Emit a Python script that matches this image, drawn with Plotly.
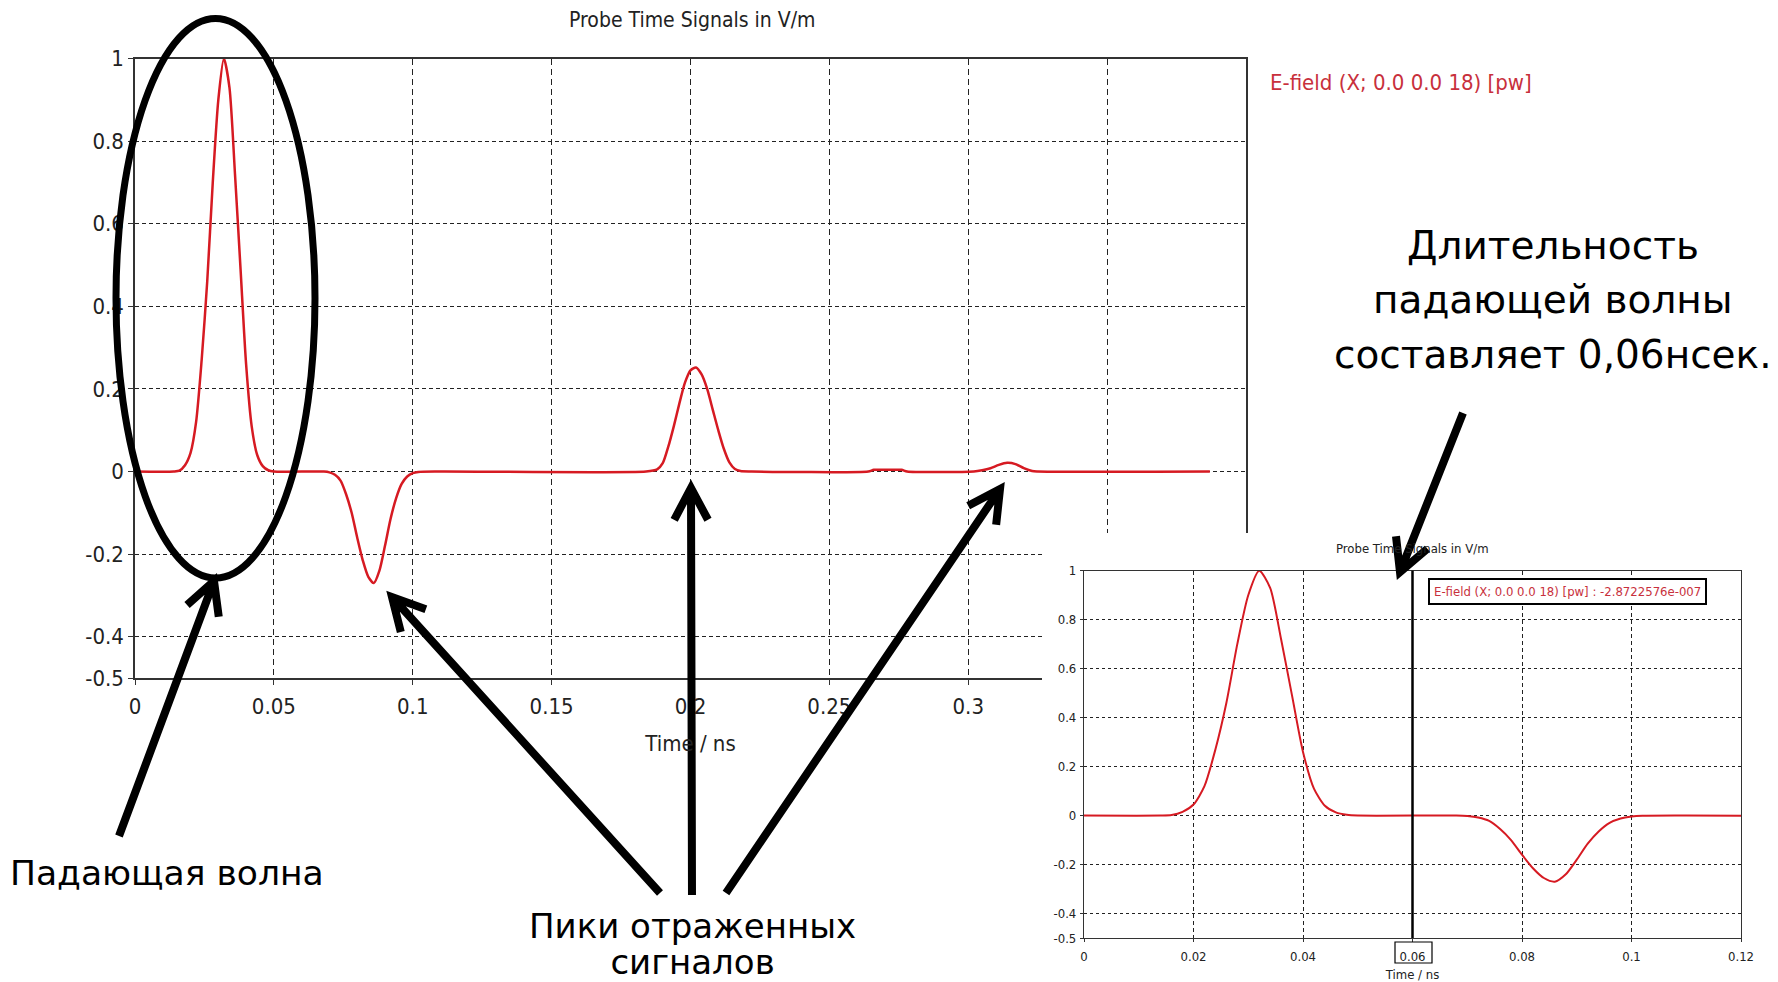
import math
import plotly.graph_objects as go

W, H = 1778, 982

# ---------------- data ----------------
time_ns = [0.000, 0.014, 0.016, 0.018, 0.020, 0.022, 0.024, 0.026, 0.028, 0.030,
           0.032, 0.034, 0.036, 0.038, 0.040, 0.042, 0.044, 0.046, 0.048, 0.050,
           0.068, 0.070, 0.072, 0.074, 0.076, 0.078, 0.080, 0.082, 0.084, 0.086,
           0.088, 0.090, 0.092, 0.094, 0.096, 0.098, 0.100, 0.102, 0.110,
           0.184, 0.188, 0.190, 0.192, 0.194, 0.196, 0.198, 0.200, 0.202, 0.204,
           0.206, 0.208, 0.210, 0.212, 0.214, 0.216, 0.218, 0.222,
           0.264, 0.266, 0.271, 0.276, 0.278,
           0.302, 0.305, 0.308, 0.311, 0.314, 0.317, 0.320, 0.323, 0.325, 0.387]
e_field = [0.0, 0.0, 0.002, 0.015, 0.045, 0.12, 0.27, 0.46, 0.70, 0.90,
           1.0, 0.93, 0.72, 0.49, 0.26, 0.11, 0.04, 0.013, 0.003, 0.0,
           0.0, -0.002, -0.008, -0.022, -0.055, -0.10, -0.16, -0.215, -0.255, -0.27,
           -0.24, -0.18, -0.115, -0.065, -0.03, -0.012, -0.004, -0.001, 0.0,
           0.0, 0.005, 0.02, 0.06, 0.11, 0.165, 0.215, 0.245, 0.252, 0.235,
           0.2, 0.15, 0.1, 0.055, 0.022, 0.006, 0.001, 0.0,
           0.0, 0.004, 0.004, 0.004, 0.0,
           0.0, 0.003, 0.008, 0.016, 0.021, 0.018, 0.008, 0.001, 0.0, 0.0]

series_name = "E-field (X; 0.0 0.0 18) [pw]"
chart_title = "Probe Time Signals in V/m"
x_title = "Time / ns"
cursor_time = 0.06
cursor_value = "-2.8722576e-007"

main_xticks = [0, 0.05, 0.1, 0.15, 0.2, 0.25, 0.3, 0.35, 0.4]
main_xlabels = ["0", "0.05", "0.1", "0.15", "0.2", "0.25", "0.3", "0.35", "0.4"]
main_yticks = [-0.5, -0.4, -0.2, 0, 0.2, 0.4, 0.6, 0.8, 1]
main_ylabels = ["-0.5", "-0.4", "-0.2", "0", "0.2", "0.4", "0.6", "0.8", "1"]
inset_xticks = [0, 0.02, 0.04, 0.06, 0.08, 0.1, 0.12]
inset_xlabels = ["0", "0.02", "0.04", "0.06", "0.08", "0.1", "0.12"]

label_incident = "Падающая волна"
label_peaks = ["Пики отраженных", "сигналов"]
label_duration = ["Длительность", "падающей волны", "составляет 0,06нсек."]

# ---------------- styling ----------------
RED = "#d61a22"
LEG_RED = "#c8303c"
GRID = "#222222"
AX = "#333333"
CF = "DejaVu Sans Condensed, DejaVu Sans, sans-serif"
TF = "DejaVu Sans, sans-serif"


def px(x):
    return x / W


def py(y):
    return 1 - y / H


fig = go.Figure()
fig.add_trace(go.Scatter(x=time_ns, y=e_field, mode="lines", name=series_name,
                         line=dict(color=RED, width=2.5, shape="spline", smoothing=0.7),
                         xaxis="x", yaxis="y", showlegend=False))
# cover subplot (white panel behind the inset)
fig.add_trace(go.Scatter(x=[None], y=[None], xaxis="x2", yaxis="y2", showlegend=False,
                         hoverinfo="skip"))
fig.add_trace(go.Scatter(x=time_ns, y=e_field, mode="lines", name=series_name,
                         line=dict(color=RED, width=2, shape="spline", smoothing=0.7),
                         xaxis="x3", yaxis="y3", showlegend=False))

main_common = dict(showgrid=True, gridcolor=GRID, gridwidth=1, showline=True, linecolor=AX,
                   linewidth=1.5, mirror=True, ticks="outside", ticklen=5, tickcolor=AX,
                   zeroline=False, automargin=False,
                   tickfont=dict(family=CF, size=22, color="#222"))
inset_common = dict(showgrid=True, gridcolor=GRID, gridwidth=1, showline=True, linecolor=AX,
                    linewidth=1.2, mirror=True, ticks="outside", ticklen=3, tickcolor=AX,
                    zeroline=False, automargin=False,
                    tickfont=dict(family=CF, size=13, color="#222"))

fig.update_layout(
    width=W, height=H, margin=dict(l=0, r=0, t=0, b=0, autoexpand=False),
    paper_bgcolor="white", plot_bgcolor="white",
    xaxis=dict(domain=[px(135), px(1246)], range=[0, 0.4], autorange=False, anchor="y",
               tickvals=main_xticks, ticktext=main_xlabels, griddash="6px,4px",
               ticklabelstandoff=3,
               title=dict(text=x_title, font=dict(family=CF, size=22, color="#222"), standoff=17),
               **main_common),
    yaxis=dict(domain=[py(678), py(58.5)], range=[-0.5, 1], autorange=False, anchor="x",
               tickvals=main_yticks, ticktext=main_ylabels, griddash="4px,3px",
               ticklabelstandoff=0, **main_common),
    xaxis2=dict(domain=[px(1042), 1], anchor="y2", visible=False, range=[0, 1],
                automargin=False),
    yaxis2=dict(domain=[0, py(533)], anchor="x2", visible=False, range=[0, 1],
                automargin=False),
    xaxis3=dict(domain=[px(1084), px(1741)], range=[0, 0.12], autorange=False, anchor="y3",
                tickvals=inset_xticks, ticktext=inset_xlabels, griddash="4px,3px",
                ticklabelstandoff=3,
                title=dict(text=x_title, font=dict(family=CF, size=13, color="#222"), standoff=7),
                **inset_common),
    yaxis3=dict(domain=[py(938), py(570.7)], range=[-0.5, 1], autorange=False, anchor="x3",
                tickvals=main_yticks, ticktext=main_ylabels, griddash="3px,3px",
                ticklabelstandoff=1, **inset_common),
)

annotations = []
# chart titles / legends
annotations.append(dict(text=chart_title, x=px(692), y=py(20), xref="paper", yref="paper",
                        showarrow=False, xanchor="center", yanchor="middle",
                        font=dict(family=CF, size=21, color="#222")))
annotations.append(dict(text=series_name, x=px(1268), y=py(82), xref="paper", yref="paper",
                        showarrow=False, xanchor="left", yanchor="middle",
                        font=dict(family=CF, size=22, color=LEG_RED)))
annotations.append(dict(text=chart_title, x=px(1412.6), y=py(548), xref="paper", yref="paper",
                        showarrow=False, xanchor="center", yanchor="middle",
                        font=dict(family=CF, size=13, color="#222")))
annotations.append(dict(text=series_name + " : " + cursor_value, x=px(1427.7), y=py(578.3),
                        xref="paper", yref="paper", showarrow=False, xanchor="left",
                        yanchor="top", bordercolor="black", borderwidth=2, borderpad=4,
                        bgcolor="white",
                        font=dict(family=CF, size=13, color=LEG_RED)))


# Russian captions
def cap(text, cx, cy, size, base=None):
    annotations.append(dict(text=text, x=px(cx), y=py(cy), xref="paper", yref="paper",
                            showarrow=False, xanchor="center", yanchor="middle",
                            font=dict(family=TF, size=base or size, color="black")))


cap(label_duration[0], 1553, 246, 39)
cap(label_duration[1], 1553, 299, 39)
cap(label_duration[2], 1553, 354, 39)
cap(label_incident, 167, 873, 34.5)
# two tightly spaced lines: small base size sets the line pitch, span sets glyph size
peaks_text = "<br>".join(f"<span style='font-size:34px'>{t}</span>" for t in label_peaks)
cap(peaks_text, 692, 944, 34, base=28)

shapes = []
# cursor line in inset
shapes.append(dict(type="line", xref="x3", yref="y3 domain", x0=cursor_time, x1=cursor_time,
                   y0=0, y1=1, line=dict(color="black", width=2.5), layer="above"))
# box around 0.06 tick label
shapes.append(dict(type="rect", xref="paper", yref="paper", x0=px(1395), x1=px(1432),
                   y0=py(963), y1=py(942), line=dict(color="black", width=1.2), layer="above"))
# ellipse around incident wave
shapes.append(dict(type="circle", xref="paper", yref="paper", x0=px(116), x1=px(315),
                   y0=py(578), y1=py(18.5), line=dict(color="black", width=7), layer="above"))


def arrow(tail, tip, head=36, ang=28):
    dx, dy = tail[0] - tip[0], tail[1] - tip[1]
    L = math.hypot(dx, dy)
    ux, uy = dx / L, dy / L
    arms = []
    for s in (1, -1):
        a = math.radians(ang * s)
        rx = ux * math.cos(a) - uy * math.sin(a)
        ry = ux * math.sin(a) + uy * math.cos(a)
        arms.append((tip[0] + head * rx, tip[1] + head * ry))
    p = lambda pt: f"{px(pt[0]):.5f},{py(pt[1]):.5f}"
    path = (f"M {p(tail)} L {p(tip)} M {p(arms[0])} L {p(tip)} L {p(arms[1])}")
    shapes.append(dict(type="path", xref="paper", yref="paper", path=path,
                       line=dict(color="black", width=8), layer="above"))


arrow((119, 836), (214, 581))
arrow((660, 893), (392, 597))
arrow((692, 895), (691, 488))
arrow((726, 893), (1000, 489))
arrow((1463, 413), (1400, 572))

fig.update_layout(annotations=annotations, shapes=shapes)
fig.write_html("out.html")
